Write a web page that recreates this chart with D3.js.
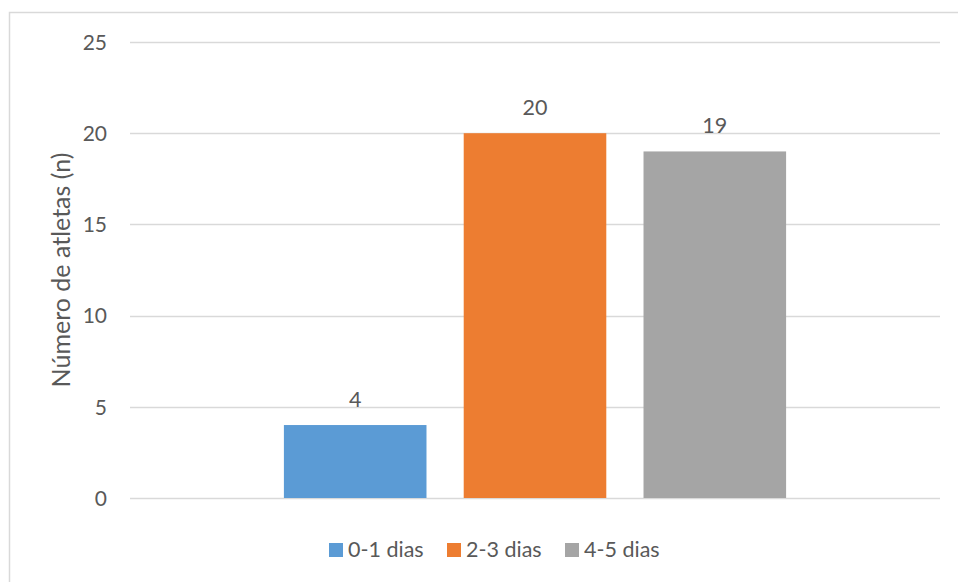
<!DOCTYPE html>
<html>
<head>
<meta charset="utf-8">
<script src="https://cdn.jsdelivr.net/npm/d3@7"></script>
<style>
  html, body { margin: 0; padding: 0; background: #fff; }
  svg { display: block; }
  text { font-family: Lato, "Open Sans", sans-serif; fill: #595959; }
</style>
</head>
<body>
<svg id="chart" width="958" height="582"></svg>
<script>
// Training frequency groups and athlete counts
const series = ["0-1 dias", "2-3 dias", "4-5 dias"];
const values = [4, 20, 19];
const colors = ["#5B9BD5", "#ED7D31", "#A5A5A5"];
const yTicks = [0, 5, 10, 15, 20, 25];
const yTitle = "Número de atletas (n)";

const svg = d3.select("#chart");
const plot = { left: 130, right: 940, top: 42, bottom: 498 };

// Chart-area frame
svg.append("rect")
  .attr("x", 9.5).attr("y", 12.5)
  .attr("width", 970).attr("height", 600)
  .attr("fill", "none").attr("stroke", "#D9D9D9").attr("stroke-width", 1.5);

const y = d3.scaleLinear().domain([0, 25]).range([plot.bottom, plot.top]);

// Single category holding three clustered series
const x = d3.scaleBand().domain(["g"]).range([plot.left, plot.right]);
const inner = d3.scaleBand().domain(series)
  .range([x("g") + 0.19 * x.bandwidth(), x("g") + 0.81 * x.bandwidth()])
  .paddingInner(0.207);

// Horizontal gridlines
svg.append("g").selectAll("line").data(yTicks).join("line")
  .attr("x1", plot.left).attr("x2", plot.right)
  .attr("y1", d => Math.round(y(d)) + 0.5).attr("y2", d => Math.round(y(d)) + 0.5)
  .attr("stroke", "#D9D9D9").attr("stroke-width", 1.3);

// Y axis tick labels
const yAxis = d3.axisLeft(y).tickValues(yTicks).tickSize(0).tickPadding(0);
const gy = svg.append("g").attr("transform", `translate(107,0)`).call(yAxis);
gy.select(".domain").remove();
gy.selectAll("text")
  .attr("font-family", "Lato, 'Open Sans', sans-serif")
  .attr("font-size", 21).attr("fill", "#595959").attr("dy", "0.35em");

// Y axis title
svg.append("text")
  .attr("transform", `translate(70,${(plot.top + plot.bottom) / 2}) rotate(-90)`)
  .attr("text-anchor", "middle")
  .attr("font-size", 25)
  .text(yTitle);

// Bars
svg.append("g").selectAll("rect").data(values).join("rect")
  .attr("x", (d, i) => inner(series[i]))
  .attr("y", d => y(d))
  .attr("width", inner.bandwidth())
  .attr("height", d => y(0) - y(d))
  .attr("fill", (d, i) => colors[i]);

// Value labels
svg.append("g").selectAll("text").data(values).join("text")
  .attr("x", (d, i) => inner(series[i]) + inner.bandwidth() / 2)
  .attr("y", d => y(d) - 18)
  .attr("text-anchor", "middle")
  .attr("font-size", 21.5)
  .attr("fill", "#404040")
  .text(d => d);

// Legend
const legendX = [329, 447, 565];
const lg = svg.append("g").selectAll("g").data(series).join("g")
  .attr("transform", (d, i) => `translate(${legendX[i]},543)`);
lg.append("rect").attr("width", 14).attr("height", 14)
  .attr("fill", (d, i) => colors[i]);
lg.append("text").attr("x", 19).attr("y", 13.5)
  .attr("font-size", 21.5)
  .text(d => d);
</script>
</body>
</html>
